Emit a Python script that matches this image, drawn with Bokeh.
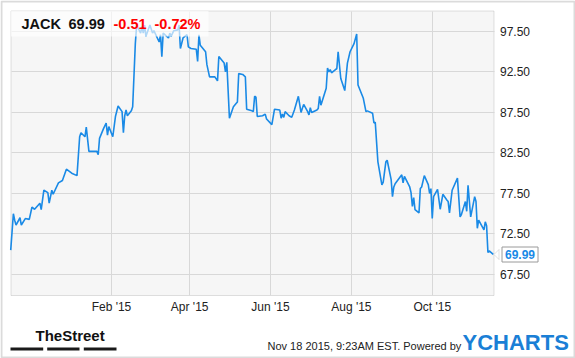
import pandas as pd
from bokeh.plotting import figure
from bokeh.models import (ColumnDataSource, Range1d, FixedTicker, DatetimeTickFormatter,
                          NumeralTickFormatter, Label, BoxAnnotation, PolyAnnotation)
from bokeh.embed import file_html
from bokeh.resources import INLINE

# ---------------- data ----------------
ticker_symbol = "JACK"
last_price = "69.99"
change_abs = "-0.51"
change_pct = "-0.72%"
timestamp_text = "Nov 18 2015, 9:23AM EST.  Powered by"

dates = [
    "2014-11-17", "2014-11-19", "2014-11-20", "2014-11-21", "2014-11-24", "2014-11-25", "2014-11-28",
    "2014-12-01", "2014-12-03", "2014-12-05", "2014-12-09", "2014-12-10", "2014-12-12", "2014-12-15",
    "2014-12-16", "2014-12-18", "2014-12-19", "2014-12-23", "2014-12-26", "2014-12-29",
    "2015-01-02", "2015-01-06", "2015-01-08", "2015-01-09", "2015-01-12", "2015-01-13", "2015-01-15",
    "2015-01-21", "2015-01-22", "2015-01-23", "2015-01-26", "2015-01-28", "2015-01-29", "2015-01-30",
    "2015-02-02", "2015-02-04", "2015-02-06", "2015-02-09", "2015-02-10", "2015-02-11", "2015-02-12",
    "2015-02-13", "2015-02-16", "2015-02-17", "2015-02-19", "2015-02-20", "2015-02-23", "2015-02-24",
    "2015-02-25", "2015-02-26", "2015-02-27",
    "2015-03-02", "2015-03-04", "2015-03-05", "2015-03-09", "2015-03-10", "2015-03-11", "2015-03-12",
    "2015-03-16", "2015-03-17", "2015-03-18", "2015-03-20", "2015-03-23", "2015-03-24", "2015-03-25",
    "2015-03-27", "2015-03-30", "2015-03-31",
    "2015-04-02", "2015-04-06", "2015-04-07", "2015-04-08", "2015-04-09", "2015-04-13", "2015-04-14",
    "2015-04-16", "2015-04-20", "2015-04-22", "2015-04-23", "2015-04-27", "2015-04-28", "2015-04-29",
    "2015-05-01", "2015-05-04", "2015-05-06", "2015-05-07", "2015-05-08", "2015-05-11", "2015-05-13",
    "2015-05-14", "2015-05-18", "2015-05-19", "2015-05-20", "2015-05-21", "2015-05-22", "2015-05-26",
    "2015-05-28", "2015-05-29",
    "2015-06-02", "2015-06-04", "2015-06-08", "2015-06-09", "2015-06-10", "2015-06-11", "2015-06-12",
    "2015-06-15", "2015-06-17", "2015-06-19", "2015-06-22", "2015-06-24", "2015-06-26", "2015-06-29",
    "2015-06-30",
    "2015-07-01", "2015-07-02", "2015-07-06", "2015-07-07", "2015-07-08", "2015-07-09", "2015-07-13",
    "2015-07-14", "2015-07-15", "2015-07-16", "2015-07-17", "2015-07-20", "2015-07-21", "2015-07-22",
    "2015-07-24", "2015-07-27", "2015-07-29", "2015-07-31",
    "2015-08-03", "2015-08-05", "2015-08-06", "2015-08-10", "2015-08-12", "2015-08-13", "2015-08-17",
    "2015-08-18", "2015-08-19", "2015-08-21", "2015-08-24", "2015-08-25", "2015-08-27", "2015-08-28",
    "2015-08-31",
    "2015-09-01", "2015-09-02", "2015-09-03", "2015-09-08", "2015-09-09", "2015-09-10", "2015-09-14",
    "2015-09-15", "2015-09-16", "2015-09-17", "2015-09-18", "2015-09-21", "2015-09-22", "2015-09-23",
    "2015-09-25", "2015-09-28", "2015-09-29", "2015-09-30",
    "2015-10-01", "2015-10-02", "2015-10-05", "2015-10-07", "2015-10-09", "2015-10-12", "2015-10-13",
    "2015-10-14", "2015-10-16", "2015-10-20", "2015-10-22", "2015-10-23", "2015-10-26", "2015-10-27",
    "2015-10-28", "2015-10-30",
    "2015-11-02", "2015-11-03", "2015-11-04", "2015-11-05", "2015-11-09", "2015-11-10", "2015-11-11",
    "2015-11-12", "2015-11-13", "2015-11-16",
]
prices = [
    70.5, 75.0, 74.2, 73.6, 74.5, 73.6, 74.4,
    74.3, 75.8, 75.55, 76.3, 75.5, 77.9, 77.6,
    76.3, 77.9, 77.4, 78.8, 79.1, 80.5,
    80.0, 79.7, 84.5, 85.0, 84.5, 85.7, 82.7,
    82.7, 82.3, 84.3, 85.5, 86.2, 84.7, 85.75,
    84.5, 87.0, 88.3, 87.6, 85.0, 87.1, 87.8,
    87.1, 87.7, 88.2, 96.0, 98.3, 97.3, 98.1,
    97.3, 98.3, 96.9,
    98.3, 97.3, 97.6, 96.2, 97.1, 94.4, 97.3,
    96.7, 97.3, 96.9, 97.6, 97.7, 98.3, 95.4,
    96.7, 97.1, 95.6,
    95.4, 95.3, 93.8, 97.1, 95.8, 95.0, 93.4,
    91.9, 91.9, 91.4, 94.4, 93.6, 92.5, 93.7,
    86.8, 88.2, 88.6, 88.8, 92.3, 92.2, 91.9,
    87.9, 87.7, 87.6, 89.5, 89.4, 87.0, 87.1,
    87.3, 86.7,
    86.0, 87.9, 87.8, 86.8, 87.3, 86.9, 87.6,
    87.1, 86.9, 87.8, 89.5, 87.5, 88.5, 87.6,
    87.2,
    88.1, 87.5, 87.8, 88.0, 89.5, 88.4, 90.5,
    93.0, 92.5, 92.8, 92.4, 92.8, 92.9, 95.0,
    91.7, 90.2, 93.6, 95.0,
    96.0, 97.2, 90.9, 89.25, 87.6, 87.7, 87.4,
    86.2, 86.3, 81.4, 78.55, 78.9, 81.4, 81.6,
    79.2,
    77.1, 78.3, 78.7, 79.8, 78.8, 79.6, 78.3,
    77.6, 75.9, 77.0, 75.5, 75.1, 78.1, 78.3,
    79.7, 78.6, 77.5, 78.1,
    74.4, 77.1, 78.0, 75.55, 77.4, 76.7, 76.5,
    75.1, 77.9, 79.4, 74.6, 74.9, 76.5, 75.3,
    78.5, 74.6,
    77.1, 76.5, 73.2, 74.2, 73.0, 74.0, 73.5,
    70.2, 70.4, 69.99,
]
x_tick_dates = ["2015-02-01", "2015-04-01", "2015-06-01", "2015-08-01", "2015-10-01"]
y_ticks = [67.5, 72.5, 77.5, 82.5, 87.5, 92.5, 97.5]

# ---------------- layout constants (pixels / view bounds) ----------------
W, H = 575, 358
PX_L, PX_R, PX_T, PX_B = 10.5, 493.5, 10.5, 295.0        # plot-area box on the canvas
X_START = pd.Timestamp("2014-11-17 05:00").value / 1e6     # plot-area x bounds (ms)
X_END = pd.Timestamp("2015-11-16 14:00").value / 1e6
Y_LO, Y_HI = 64.9, 100.03                                 # plot-area y bounds

ms_per_px = (X_END - X_START) / (PX_R - PX_L)
u_per_px = (Y_HI - Y_LO) / (PX_B - PX_T)
x_range = Range1d(X_START - PX_L * ms_per_px, X_END + (W - PX_R) * ms_per_px)
y_range = Range1d(Y_LO - (H - PX_B) * u_per_px, Y_HI + PX_T * u_per_px)

FONT = "Liberation Sans"
LINE_BLUE = "#1a8ae6"
GRID = "#d8d8d8"
FRAME_GRAY = "#9a9a9a"

src = ColumnDataSource(dict(date=pd.to_datetime(dates), price=prices))

p = figure(width=W, height=H, output_backend="svg", toolbar_location=None,
           x_axis_type="datetime", y_axis_location="right",
           x_range=x_range, y_range=y_range,
           min_border=0, min_border_left=0, min_border_right=0,
           min_border_top=0, min_border_bottom=0)
p.background_fill_color = "white"
p.border_fill_color = "white"
p.outline_line_color = None

# plot-area background + frame (drawn below grid)
p.add_layout(BoxAnnotation(left=X_START, right=X_END, bottom=Y_LO, top=Y_HI,
                           fill_color="#f6f6f6", fill_alpha=1.0,
                           line_color=FRAME_GRAY, line_width=1, level="image"))

# axes pinned to the plot-area edges
p.xaxis.fixed_location = Y_LO
p.yaxis.fixed_location = X_END
p.xaxis.ticker = FixedTicker(ticks=[pd.Timestamp(d).value / 1e6 for d in x_tick_dates])
fmt = "%b '%y"
p.xaxis.formatter = DatetimeTickFormatter(years=fmt, months=fmt, days=fmt, hours=fmt,
                                          hourmin=fmt, minutes=fmt, minsec=fmt,
                                          seconds=fmt, milliseconds=fmt, microseconds=fmt)
p.yaxis.ticker = FixedTicker(ticks=y_ticks)
p.yaxis.formatter = NumeralTickFormatter(format="0.00")
for ax in (p.xaxis[0], p.yaxis[0]):
    ax.axis_line_color = None
    ax.major_tick_line_color = None
    ax.minor_tick_line_color = None
    ax.major_tick_out = 0
    ax.major_tick_in = 0
    ax.minor_tick_out = 0
    ax.major_label_text_font = FONT
    ax.major_label_text_font_size = "12px"
    ax.major_label_text_color = "#222222"
p.xaxis.major_label_standoff = 4
p.yaxis.major_label_standoff = 6

p.xgrid.grid_line_color = GRID
p.ygrid.grid_line_color = GRID
p.xgrid.cross_bounds = (Y_LO, Y_HI)
p.ygrid.cross_bounds = (X_START, X_END)

p.line(x="date", y="price", source=src, line_color=LINE_BLUE, line_width=1.6)

# ---------- annotations (screen units: x from left, y from bottom of canvas) ----------
def box(l, r, t, b, **kw):
    p.add_layout(BoxAnnotation(left=l, right=r, top=H - t, bottom=H - b,
                               left_units="screen", right_units="screen",
                               top_units="screen", bottom_units="screen", **kw))

def lab(x, y, text, size, color, bold=False, font=FONT, **kw):
    p.add_layout(Label(x=x, y=H - y, x_units="screen", y_units="screen", text=text,
                       text_font=font, text_font_size=size, text_color=color,
                       text_font_style="bold" if bold else "normal",
                       text_baseline="middle", **kw))

# header
box(10.5, 208, 10.5, 36, fill_color="white", fill_alpha=0.65, line_color=None)
lab(21, 23.5, ticker_symbol, "14.5px", "#111111", bold=True)
lab(68, 23.5, last_price, "14.5px", "#111111", bold=True)
lab(113, 23.5, change_abs, "14.5px", "#ff0000", bold=True)
lab(154, 23.5, change_pct, "14.5px", "#ff0000", bold=True)

# last-value tag
lab(501.5, 254, last_price, "12px", LINE_BLUE, bold=True,
    background_fill_color="white", border_line_color=FRAME_GRAY, padding=3)
p.add_layout(PolyAnnotation(xs=[493.5, 498.5, 498.5], ys=[H - 254, H - 249, H - 259],
                            xs_units="screen", ys_units="screen",
                            fill_color="white", fill_alpha=1.0,
                            line_color=FRAME_GRAY, line_width=1))

# footer
lab(35, 335, "TheStreet", "15px", "#111111", bold=True)
for l, r in [(10, 42.7), (46.7, 79), (83.3, 116)]:
    box(l, r, 347, 350, fill_color="#1a1a1a", fill_alpha=1.0, line_color=None)
lab(267, 345.5, timestamp_text, "11px", "#222222")
lab(462, 341.5, "YCHARTS", "22px", "#1a7fd6", bold=True)

# outer frame of the image
box(1, 574, 1, 357, fill_alpha=0.0, line_color="#888888", line_width=2)

open("out.html", "w").write(file_html(p, INLINE))
